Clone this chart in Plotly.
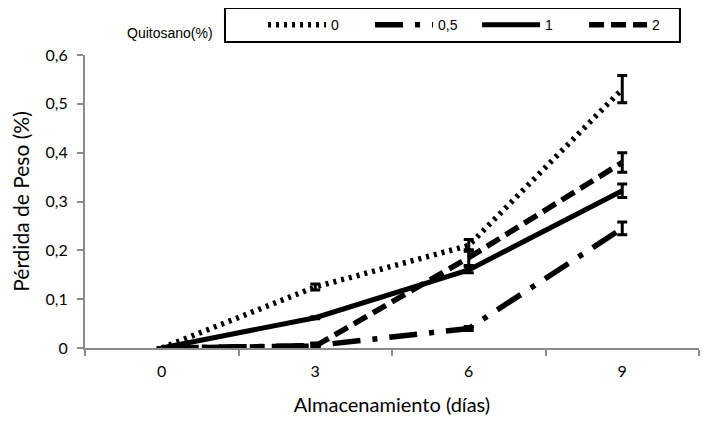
import plotly.graph_objects as go

days = ["0", "3", "6", "9"]
series_names = ["0", "0,5", "1", "2"]
s0 = [0.0, 0.125, 0.21, 0.53]
s0_err = [0.0, 0.006, 0.012, 0.028]
s05 = [0.0, 0.005, 0.04, 0.245]
s05_err = [0.0, 0.003, 0.004, 0.013]
s1 = [0.0, 0.062, 0.16, 0.322]
s1_err = [0.0, 0.002, 0.006, 0.014]
s2 = [0.0, 0.004, 0.185, 0.38]
s2_err = [0.0, 0.006, 0.016, 0.02]
yticks = [0, 0.1, 0.2, 0.3, 0.4, 0.5, 0.6]
ytick_text = ["0", "0,1", "0,2", "0,3", "0,4", "0,5", "0,6"]

styles = [
    dict(dash="3px,5px", width=5.5),
    dict(dash="28px,12px,5px,12px", width=5.5),
    dict(dash="solid", width=5),
    dict(dash="15px,7px", width=5.5),
]
values = [s0, s05, s1, s2]
errs = [s0_err, s05_err, s1_err, s2_err]

small_font = "Liberation Sans Narrow, Arial Narrow, Liberation Sans, sans-serif"

fig = go.Figure()
for name, v, e, st in zip(series_names, values, errs, styles):
    fig.add_trace(go.Scatter(
        x=days, y=v, name=name, mode="lines",
        line=dict(color="black", width=st["width"], dash=st["dash"]),
        error_y=dict(type="data", array=e, color="black", thickness=3, width=5),
    ))

# page body has an 8px margin, so the figure is sized to fit inside the window
fig.update_layout(
    width=706, height=408,
    margin=dict(l=77, r=15, t=47, b=68, autoexpand=False),
    plot_bgcolor="white", paper_bgcolor="white",
    showlegend=True,
    legend=dict(
        orientation="h", x=0.29, xanchor="left", y=1.102, yanchor="middle",
        borderwidth=0, bgcolor="rgba(0,0,0,0)",
        font=dict(family=small_font, size=14, color="black"),
        itemwidth=58, entrywidth=34, tracegroupgap=0,
    ),
    shapes=[dict(
        type="rect", xref="paper", yref="paper",
        x0=0.228, x1=0.969, y0=1.044, y1=1.160,
        line=dict(color="black", width=2), fillcolor="rgba(0,0,0,0)", layer="above",
    )],
    annotations=[dict(
        text="Quitosano(%)", xref="paper", yref="paper", x=0.065, y=1.075,
        xanchor="left", yanchor="middle", showarrow=False,
        font=dict(family=small_font, size=14, color="black"),
    )],
    xaxis=dict(
        type="category", range=[-0.5, 3.5], tickson="boundaries",
        ticks="outside", ticklen=6, tickcolor="#8c8c8c", tickwidth=2,
        showline=True, linecolor="#8c8c8c", linewidth=2, showgrid=False,
        tickfont=dict(family="Lato, sans-serif", size=16, color="black"),
        ticklabelstandoff=8,
        title=dict(text="Almacenamiento (días)", font=dict(family="Lato, sans-serif", size=20, color="black"), standoff=20),
        zeroline=False, automargin=False,
    ),
    yaxis=dict(
        range=[0, 0.6], tickvals=yticks, ticktext=ytick_text,
        ticks="outside", ticklen=6, tickcolor="#8c8c8c", tickwidth=2,
        showline=True, linecolor="#8c8c8c", linewidth=2, showgrid=False, zeroline=False,
        tickfont=dict(family="Lato, sans-serif", size=16, color="black"),
        ticklabelstandoff=6,
        title=dict(text="Pérdida de Peso (%)", font=dict(family="Lato, sans-serif", size=21, color="black"), standoff=12),
        automargin=False,
    ),
)

fig.write_html("out.html")
